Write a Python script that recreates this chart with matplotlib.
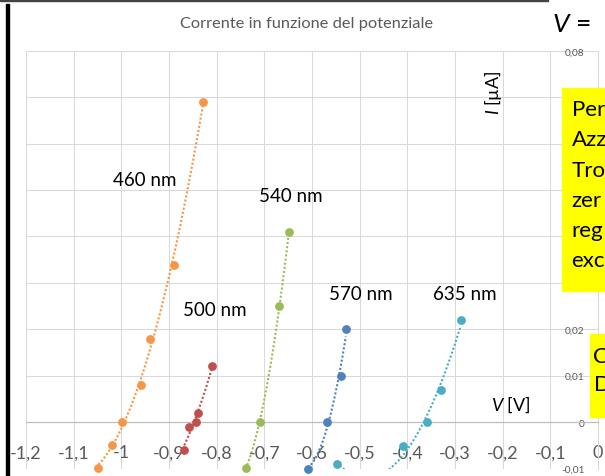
import numpy as np
import matplotlib.pyplot as plt
from matplotlib.patches import Rectangle

plt.rcParams['font.family'] = ['Lato', 'DejaVu Sans']
plt.rcParams['mathtext.fontset'] = 'custom'
plt.rcParams['mathtext.it'] = 'Lato:italic'
plt.rcParams['mathtext.rm'] = 'Lato'

W, H = 605, 477

v_460 = [-1.048, -1.019, -0.999, -0.959, -0.940, -0.889, -0.829]
i_460 = [-0.0099, -0.0050, 0.0, 0.0080, 0.0179, 0.0339, 0.0690]
v_500 = [-0.868, -0.859, -0.844, -0.840, -0.809]
i_500 = [-0.0060, -0.0011, 0.0, 0.0020, 0.0121]
v_540 = [-0.739, -0.709, -0.669, -0.648]
i_540 = [-0.0099, 0.0, 0.0250, 0.0410]
v_570 = [-0.609, -0.568, -0.539, -0.529]
i_570 = [-0.0100, 0.0, 0.0100, 0.0200]
v_635 = [-0.548, -0.409, -0.359, -0.329, -0.288]
i_635 = [-0.0090, -0.0052, 0.0, 0.0070, 0.0220]

x_ticks = [-1.2, -1.1, -1.0, -0.9, -0.8, -0.7, -0.6, -0.5, -0.4, -0.3, -0.2, -0.1, 0.0]
y_ticks = [-0.01, 0.0, 0.01, 0.02, 0.03, 0.04, 0.05, 0.06, 0.07, 0.08]

series = [
    (v_460, i_460, '#F79646'),
    (v_500, i_500, '#C0504D'),
    (v_540, i_540, '#9BBB59'),
    (v_570, i_570, '#4F81BD'),
    (v_635, i_635, '#4BACC6'),
]


def fmt(v, nd):
    s = '{:.{}f}'.format(v, nd).rstrip('0').rstrip('.')
    if s in ('-0', ''):
        s = '0'
    return s.replace('.', ',')


def fx(x):
    return x / W


def fy(y):
    return 1 - y / H


fig = plt.figure(figsize=(W / 100, H / 100), dpi=100)
ax = fig.add_axes([fx(26), fy(469.5), (598 - 26) / W, (469.5 - 51.7) / H])

for v, i, c in series:
    # linea di tendenza polinomiale (ordine 2) come in Excel
    coef = np.polyfit(v, i, 2)
    xs = np.linspace(min(v), max(v), 200)
    ax.plot(xs, np.polyval(coef, xs), ls=(0, (1, 1)), lw=1.5, color=c, zorder=2)
    ax.plot(v, i, 'o', ms=5.3, color=c, mec=c, clip_on=False, zorder=3)

ax.set_xlim(-1.2, 0)
ax.set_ylim(-0.01, 0.08)
ax.set_xticks(x_ticks)
ax.set_xticklabels([fmt(t, 1) for t in x_ticks])
ax.set_yticks(y_ticks)
ax.set_yticklabels([fmt(t, 2) for t in y_ticks])
ax.grid(True, color='#D9D9D9', lw=0.75)
ax.set_axisbelow(True)
for s in ['top', 'right']:
    ax.spines[s].set_visible(False)
ax.spines['bottom'].set_position(('data', 0))
ax.spines['bottom'].set_color('#BFBFBF')
ax.spines['bottom'].set_linewidth(0.9)
ax.spines['left'].set_position(('data', 0))
ax.spines['left'].set_color('#D9D9D9')
ax.spines['left'].set_linewidth(0.75)
ax.tick_params(axis='x', length=0, pad=16, labelsize=13, labelcolor='#595959')
ax.tick_params(axis='y', length=0, pad=9.5, labelsize=7.3, labelcolor='#595959')

fig.text(fx(307), fy(24), 'Corrente in funzione del potenziale', fontsize=11.8,
         color='#595959', ha='center', va='center')

for txt, x, y in [('460 nm', 145, 181), ('540 nm', 291, 197), ('500 nm', 215, 311),
                  ('570 nm', 361, 295), ('635 nm', 465, 295)]:
    fig.text(fx(x), fy(y), txt, fontsize=13.5, ha='center', va='center')

fig.text(fx(493.5), fy(93), r'$I$ [µA]', fontsize=13, rotation=90,
         ha='center', va='center')
fig.text(fx(511), fy(405), r'$V$ [V]', fontsize=13, ha='center', va='center')

# cornice e riquadri della diapositiva
fig.add_artist(Rectangle((fx(6), 0), 2.5 / W, fy(5), color='black', zorder=5))
fig.add_artist(Rectangle((0, fy(2)), fx(548), 2 / H, color='#444444', zorder=5))
fig.text(fx(552), fy(25), r'$V$ =', fontsize=19, ha='left', va='center', zorder=6)

fig.add_artist(Rectangle((fx(561.7), fy(292)), (W - 561.7) / W, (292 - 89.3) / H,
                         color='#FFFF00', zorder=5))
for k, word in enumerate(['Per', 'Azz', 'Tro', 'zer', 'reg', 'exc']):
    fig.text(fx(571.5), fy(110 + 30.3 * k), word, fontsize=16, ha='left', va='center', zorder=6)

fig.add_artist(Rectangle((fx(590), fy(418)), (W - 590) / W, (418 - 335) / H,
                         color='#FFFF00', zorder=5))
fig.text(fx(593.5), fy(357), 'C', fontsize=16, ha='left', va='center', zorder=6)
fig.text(fx(593.5), fy(385), 'D', fontsize=16, ha='left', va='center', zorder=6)

fig.savefig('out.png', dpi=100)
